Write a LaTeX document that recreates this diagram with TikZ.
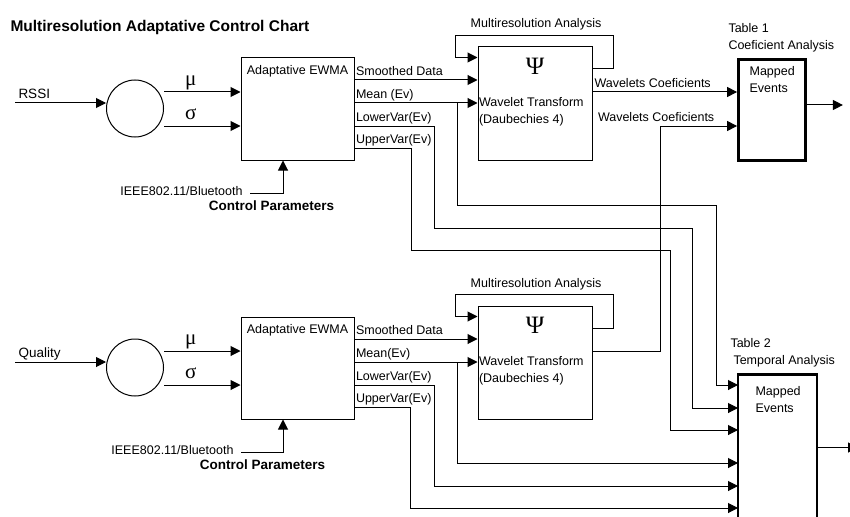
\documentclass[tikz,border=0pt]{standalone}
\usepackage{fontspec}
\setmainfont{Liberation Sans}
\newfontfamily\greekfont{Liberation Serif}
\usetikzlibrary{arrows.meta}
\begin{document}
\begin{tikzpicture}[x=1pt,y=-1pt,line width=1pt,
  txt/.style={font=\fontsize{12.5}{17}\selectfont,inner sep=0pt},
  outlbl/.style={txt,anchor=south west,inner xsep=1.5pt,text depth=4pt},
  greek/.style={font=\greekfont\fontsize{21}{21}\selectfont,inner sep=1pt,text depth=5pt},
  box/.style={draw,line width=1pt},
  tbox/.style={draw,line width=2.8pt},
  arr/.style={-{Triangle[length=10pt,width=10pt]}}]
\useasboundingbox (0,0) rectangle (850,516);
\node[font=\bfseries\fontsize{15.5}{18}\selectfont,inner sep=0pt,anchor=base west] (title) at (10,32) {Multiresolution Adaptative Control Chart};
\foreach \r/\dy/\src/\mean/\dx in {1/0/RSSI/{Mean (Ev)}/0, 2/259/Quality/{Mean(Ev)}/-9} {
  \begin{scope}[shift={(0,\dy)}]
    \node[outlbl,font=\fontsize{13.5}{16}\selectfont,inner xsep=3pt] (src\r) at (15,103) {\src};
    \node[circle,draw,minimum size=57pt,inner sep=0pt] (circ\r) at (135,108.5) {};
    \draw[arr] (src\r.south west) -- (src\r.south west -| circ\r.west);
    \node[box,minimum width=113pt,minimum height=102pt,label={[txt,anchor=north,yshift=-7pt]north:Adaptative EWMA}] (ewma\r) at (297.5,109) {};
    \coordinate (pm\r) at ([yshift=17pt]ewma\r.west);
    \coordinate (ps\r) at ([yshift=-17pt]ewma\r.west);
    \draw[arr] (circ\r.east |- pm\r) -- node[greek,above,pos=0.35] (mu\r) {μ} (pm\r);
    \draw[arr] (circ\r.east |- ps\r) -- node[greek,above,pos=0.35] (sg\r) {σ} (ps\r);
    \node[txt,anchor=base east] (ieee\r) at ({243+\dx},195) {IEEE802.11/Bluetooth};
    \node[txt,font=\bfseries\fontsize{13.5}{16}\selectfont,anchor=base] (cp\r) at ({271.5+\dx},210) {Control Parameters};
    \draw[arr] ([shift={(7pt,2pt)}]ieee\r.base east) -| ([xshift=-14.5pt]ewma\r.south);
    \foreach \k/\t/\yy in {sd/Smoothed Data/80, mn/\mean/103, lo/LowerVar(Ev)/126, up/UpperVar(Ev)/148}
      \node[outlbl] (\k\r) at (354,\yy) {\t};
    \node[box,minimum width=114pt,minimum height=113pt] (wav\r) at (535,103.5) {};
    \node[greek,font=\greekfont\fontsize{25}{25}\selectfont,text depth=0pt] (psi\r) at (535,66) {Ψ};
    \node[txt,align=left,anchor=north west] (wt\r) at ([shift={(1,50)}]wav\r.north west) {Wavelet Transform\\(Daubechies 4)};
    \node[txt,anchor=base] (mra\r) at (536,28) {Multiresolution Analysis};
    \draw[arr] ([yshift=34.5pt]wav\r.east) -- ++(21,0) |- ([shift={(-22,-11)}]wav\r.north west) |- ([yshift=-11pt]wav\r.north west);
    \draw[arr] (sd\r.south west) -- (sd\r.south west -| wav\r.west);
    \draw[arr] (mn\r.south west) -- (mn\r.south west -| wav\r.west);
    \coordinate (wo\r) at ([yshift=11.5pt]wav\r.east);
  \end{scope}
}
\node[tbox,minimum width=67pt,minimum height=101pt] (t1) at (772,110) {};
\node[txt,align=left,anchor=north west] (me1) at ([shift={(12,8)}]t1.north west) {Mapped\\Events};
\node[txt,align=left,anchor=north west] (tab1) at (728,23) {Table 1\\Coeficient Analysis};
\draw[arr] ([yshift=5pt]t1.east) -- ++(36,0);
\node[minimum width=78pt,minimum height=141pt,inner sep=0pt] (t2) at (777.5,445.5) {};
\draw[tbox] (t2.south west) |- (t2.north east) -- (t2.south east);
\node[txt,align=left,anchor=north west] (me2) at ([shift={(17,11)}]t2.north west) {Mapped\\Events};
\node[txt,align=left,anchor=north west] (tab2) at (730,338) {Table 2\\\hspace*{3pt}Temporal Analysis};
\draw[arr] ([yshift=-2pt]t2.east) -- ++(41,0);
\node[outlbl] (wc1) at (wo1) {Wavelets Coeficients};
\draw[arr] (wc1.south west) -- (wc1.south west -| t1.west);
\node[outlbl] (wc2) at (596,126) {Wavelets Coeficients};
\coordinate (cw) at (660,126);
\draw[arr] (wo2) -| (cw) -- (cw -| t1.west);
\foreach \k/\cx/\cy/\tx/\ty in {mn/457/205/716/385, lo/434/228/692/408, up/411/250/670/430}
  \draw[arr] (\k1.south west) -| (\cx,\cy) -| (\tx,\ty) -- (t2.west |- \tx,\ty);
\foreach \k/\cx/\ty in {mn/457/463, lo/434/486, up/410/508}
  \draw[arr] (\k2.south west) -| (\cx,\ty) -- (t2.west |- \cx,\ty);
\end{tikzpicture}
\end{document}
